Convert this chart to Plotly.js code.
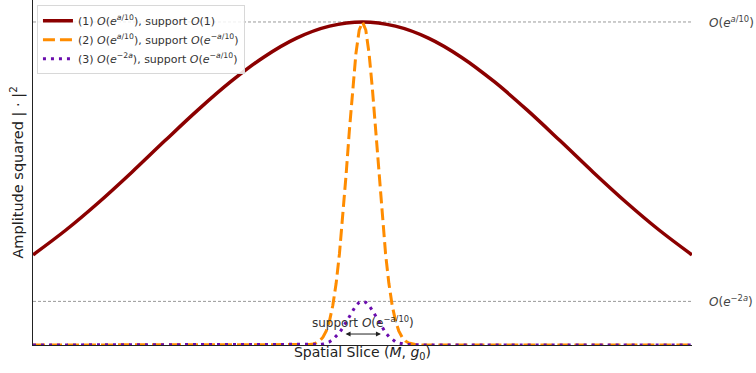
<!DOCTYPE html>
<html>
<head>
<meta charset="utf-8">
<script src="https://cdn.plot.ly/plotly-3.0.1.min.js"></script>
<style>html,body{margin:0;padding:0;background:#fff;}#chart{width:756px;height:373px;}</style>
</head>
<body>
<div id="chart"></div>
<script>
// Wide bump (1): x positions and amplitude squared values
const xWide = [-5,-4.5,-4,-3.5,-3,-2.5,-2,-1.5,-1,-0.5,0,0.5,1,1.5,2,2.5,3,3.5,4,4.5,5];
const yWide = [0.279,0.356,0.442,0.535,0.632,0.727,0.815,0.891,0.950,0.987,1.000,0.987,0.950,0.891,0.815,0.727,0.632,0.535,0.442,0.356,0.279];

// Narrow bumps (2) and (3)
const xNarrow = [-5,-1,-0.9,-0.8,-0.75,-0.7,-0.65,-0.6,-0.55,-0.5,-0.45,-0.4,-0.35,-0.3,-0.25,-0.2,-0.15,-0.1,-0.05,0,
                 0.05,0.1,0.15,0.2,0.25,0.3,0.35,0.4,0.45,0.5,0.55,0.6,0.65,0.7,0.75,0.8,0.9,1,5];
const yTall  = [0,0,0.0003,0.0013,0.0030,0.0063,0.0127,0.0243,0.0439,0.0756,0.123,0.191,0.282,0.395,0.524,0.662,0.793,0.902,0.975,1.000,
                0.975,0.902,0.793,0.662,0.524,0.395,0.282,0.191,0.123,0.0756,0.0439,0.0243,0.0127,0.0063,0.0030,0.0013,0.0003,0,0];
const ySmall = [0,0,0.0001,0.0004,0.0008,0.0014,0.0022,0.0034,0.0060,0.0100,0.0170,0.0260,0.0380,0.0530,0.0710,0.0890,0.1070,0.1220,0.1320,0.1350,
                0.1320,0.1220,0.1070,0.0890,0.0710,0.0530,0.0380,0.0260,0.0170,0.0100,0.0060,0.0034,0.0022,0.0014,0.0008,0.0004,0.0001,0,0];

const seriesNames = [
  '(1) <i>O</i>(<i>e</i><sup><i>a</i>/10</sup>), support <i>O</i>(1)',
  '(2) <i>O</i>(<i>e</i><sup><i>a</i>/10</sup>), support <i>O</i>(<i>e</i><sup>\u2212<i>a</i>/10</sup>)',
  '(3) <i>O</i>(<i>e</i><sup>\u22122<i>a</i></sup>), support <i>O</i>(<i>e</i><sup>\u2212<i>a</i>/10</sup>)'
];

// Reference levels and labels
const refLevels = [1, 0.135];
const refLabels = ['<i>O</i>(<i>e</i><sup><i>a</i>/10</sup>)', '<i>O</i>(<i>e</i><sup>\u22122<i>a</i></sup>)'];

// Support annotation
const supportText = 'support <i>O</i>(e<sup>\u2212a/10</sup>)';
const supportTextY = 0.071;
const supportArrow = [-0.28, 0.28];
const supportArrowY = 0.034;

const xRange = [-5, 5];
const yRange = [0, 1.068];

const traces = [
  {x: xWide, y: yWide, name: seriesNames[0], type: 'scatter', mode: 'lines',
   line: {color: '#8b0000', width: 3.5, shape: 'spline'}},
  {x: xNarrow, y: yTall, name: seriesNames[1], type: 'scatter', mode: 'lines',
   line: {color: '#ff8c00', width: 3, dash: '12px,5px'}},
  {x: xNarrow, y: ySmall, name: seriesNames[2], type: 'scatter', mode: 'lines',
   line: {color: '#6a0dad', width: 3, dash: '3px,5px'}}
];

const shapes = refLevels.map(v => ({
  type: 'line', xref: 'paper', yref: 'y', x0: 0, x1: 1, y0: v, y1: v,
  line: {color: '#999', width: 1, dash: '3px,2px'}, layer: 'below'
}));

const annotations = refLevels.map((v, i) => ({
  xref: 'paper', yref: 'y', x: 1, y: v, xanchor: 'left', yanchor: 'middle', xshift: 15,
  text: refLabels[i], showarrow: false, font: {size: 12, color: '#444', family: 'DejaVu Sans'}
}));
annotations.push({
  xref: 'x', yref: 'y', x: 0, y: supportTextY, text: supportText, showarrow: false,
  xanchor: 'center', yanchor: 'middle', font: {size: 12, color: '#333', family: 'DejaVu Sans'}
});
annotations.push({
  xref: 'x', yref: 'y', axref: 'x', ayref: 'y',
  x: supportArrow[1], y: supportArrowY, ax: supportArrow[0], ay: supportArrowY,
  text: '', showarrow: true, arrowside: 'end+start', arrowhead: 2, arrowsize: 1,
  arrowwidth: 1, arrowcolor: '#222'
});

const layout = {
  width: 756, height: 373,
  margin: {l: 33, r: 64, t: 0, b: 28, pad: 0},
  paper_bgcolor: '#fff', plot_bgcolor: '#fff',
  font: {family: 'DejaVu Sans', color: '#222'},
  showlegend: true,
  legend: {x: 0.006, y: 0.985, xanchor: 'left', yanchor: 'top',
    bgcolor: 'rgba(255,255,255,0.85)', bordercolor: '#d8d8d8', borderwidth: 1,
    font: {size: 11, color: '#333', family: 'DejaVu Sans'},
    itemwidth: 30, tracegroupgap: 0},
  xaxis: {range: xRange, showgrid: false, zeroline: false, showticklabels: false, ticks: '',
    showline: true, linecolor: '#222', linewidth: 1.3, fixedrange: true,
    title: {text: 'Spatial Slice (<i>M</i>, <i>g</i><sub>0</sub>)', font: {size: 14, color: '#222'}, standoff: 2}},
  yaxis: {range: yRange, showgrid: false, zeroline: false, showticklabels: false, ticks: '',
    showline: true, linecolor: '#222', linewidth: 1.3, fixedrange: true,
    title: {text: 'Amplitude squared | \u00b7 |<sup>2</sup>', font: {size: 14.5, color: '#222'}, standoff: 4}},
  shapes: shapes,
  annotations: annotations
};

Plotly.newPlot('chart', traces, layout, {displayModeBar: false, staticPlot: true});
</script>
</body>
</html>
